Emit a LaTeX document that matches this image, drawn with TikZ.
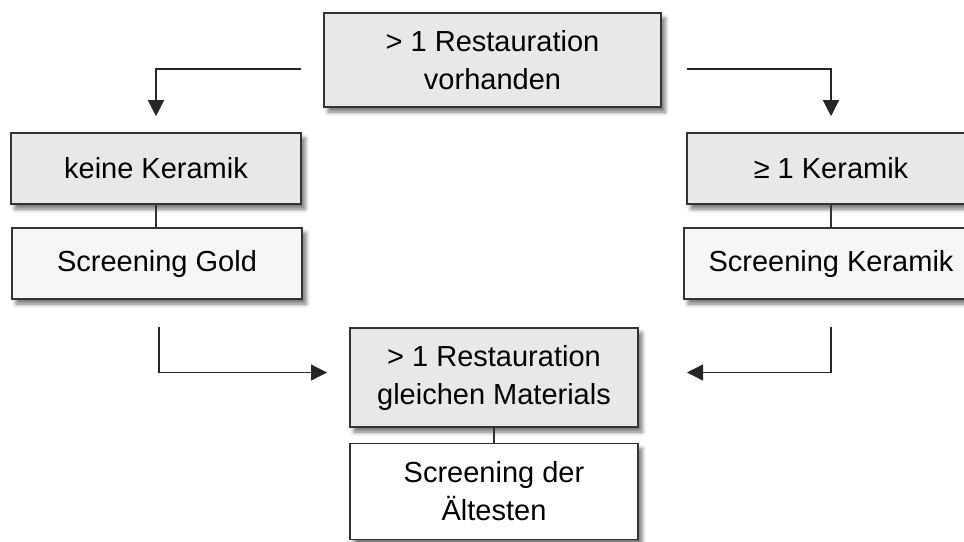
\documentclass[tikz,border=0pt]{standalone}
\usepackage{fontspec}
\setmainfont{Liberation Sans}
\usetikzlibrary{arrows.meta,shadows.blur}
\definecolor{boxgray}{HTML}{E8E8E8}
\definecolor{boxlight}{HTML}{F6F6F6}
\definecolor{edge}{HTML}{333333}
\tikzset{
  basebox/.style={draw=edge, line width=1.6pt, rectangle, align=center, inner sep=0pt,
    font=\fontsize{29}{38}\selectfont,
    blur shadow={shadow xshift=4pt, shadow yshift=-5pt, shadow blur radius=4pt, shadow opacity=55}},
  graybox/.style={basebox, fill=boxgray},
  lightbox/.style={basebox, fill=boxlight},
  whitebox/.style={basebox, fill=white},
  arr/.style={draw=black!85, line width=1.3pt, -{Triangle[length=16pt,width=16pt]}},
  link/.style={draw=black!80, line width=1.2pt}
}
\begin{document}
\begin{tikzpicture}[x=1pt,y=-1pt]
\useasboundingbox (0,0) rectangle (964,541);
\node[graybox, minimum width=337pt, minimum height=94pt] (top) at (492.5,60) {> 1 Restauration\\vorhanden};
\node[graybox, minimum width=290pt, minimum height=71pt] (keine) at (156,168.5) {keine Keramik};
\node[lightbox, minimum width=290pt, minimum height=71pt] (gold) at (157,263.5) {Screening Gold};
\node[graybox, minimum width=288pt, minimum height=71pt] (ker) at (831,168.5) {≥ 1 Keramik};
\node[lightbox, minimum width=294pt, minimum height=71pt] (sker) at (831,263.5) {Screening Keramik};
\node[graybox, minimum width=288pt, minimum height=99pt] (mid) at (494,377.5) {> 1 Restauration\\gleichen Materials};
\node[whitebox, minimum width=288pt, minimum height=96pt] (old) at (494,491.5) {Screening der\\Ältesten};

\coordinate (sL) at (301,69);
\coordinate (sR) at (687,69);
\coordinate (bL) at (159,327);
\coordinate (bR) at (831,327);
\coordinate (eL) at (327,372.5);
\coordinate (eR) at (687,372.5);

\draw[arr, shorten >=16pt] (sL) -| (keine.north);
\draw[arr, shorten >=16pt] (sR) -| (ker.north);
\draw[arr] (bL) |- (eL);
\draw[arr] (bR) |- (eR);

\draw[link] (keine.south) -- (keine.south |- gold.north);
\draw[link] (ker.south) -- (ker.south |- sker.north);
\draw[link] (mid.south) -- (mid.south |- old.north);
\end{tikzpicture}
\end{document}
